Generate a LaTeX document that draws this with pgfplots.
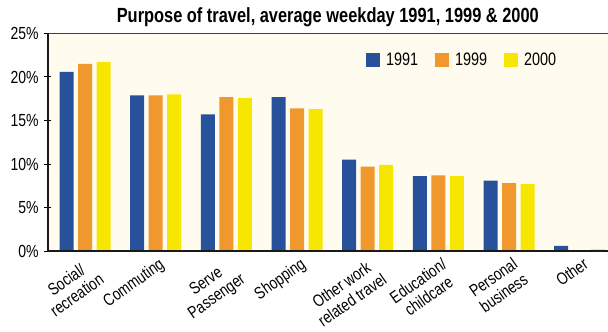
\documentclass[border=0pt]{standalone}
\usepackage{fontspec}
\setmainfont{Liberation Sans}[FakeStretch=0.8]
\usepackage{pgfplots}
\pgfplotsset{compat=1.18}

\definecolor{bgcream}{HTML}{FFFCEF}
\definecolor{c1991}{HTML}{27519B}
\definecolor{c1999}{HTML}{F0972D}
\definecolor{c2000}{HTML}{F7E600}

\pgfplotstableread{
x  y1991 y1999 y2000
0  20.6  21.5  21.7
1  17.9  17.9  18.0
2  15.7  17.7  17.6
3  17.7  16.4  16.3
4  10.5   9.7   9.9
5   8.6   8.7   8.6
6   8.1   7.8   7.7
7   0.6   0.1   0.2
}\travel

\begin{document}
\begin{tikzpicture}
\begin{axis}[
    scale only axis,
    width=560.3bp, height=217.5bp,
    at={(0,0)}, anchor=south west,
    xmin=-0.528, xmax=7.40,
    ymin=0, ymax=25,
    ybar=4.5bp, bar width=14bp,
    clip=false,
    axis line style={draw=none},
    axis background/.style={fill=bgcream},
    font=\fontsize{17.5bp}{18.5bp}\selectfont,
    xtick={0,...,7},
    xticklabels={Social/\\recreation, Commuting, Serve\\Passenger, Shopping,
                 Other work\\related travel, Education/\\childcare,
                 Personal\\business, Other},
    xtick style={draw=none},
    xticklabel style={rotate=35, anchor=north east, align=center,
                      xshift=4bp, yshift=0bp,
                      font=\fontsize{17bp}{18.5bp}\selectfont},
    ytick={0,5,...,25},
    ytick pos=left,
    yticklabels={0\%,5\%,10\%,15\%,20\%,25\%},
    ytick style={draw=black, line width=1bp},
    tick align=center, major tick length=7bp,
    yticklabel style={xshift=-2bp},
    legend style={at={(rel axis cs:0.568,0.92)}, anchor=north west,
                  draw=none, fill=none, inner sep=0pt,
                  legend columns=3,
                  /tikz/every odd column/.append style={column sep=4bp},
                  /tikz/every even column/.append style={column sep=15bp},
                  font=\fontsize{18bp}{20bp}\selectfont},
    legend image code/.code={\fill[#1] (0bp,-7bp) rectangle (14bp,7bp);},
]
\addplot[fill=c1991, draw=none] table[x=x, y=y1991] {\travel};
\addplot[fill=c1999, draw=none] table[x=x, y=y1999] {\travel};
\addplot[fill=c2000, draw=none] table[x=x, y=y2000] {\travel};
\legend{1991, 1999, 2000}

% frame: grey top rule, black left and bottom axes
\draw[black!75, line width=1.3bp] (rel axis cs:0,1) -- (rel axis cs:1,1);
\draw[black!90, line width=2bp] (rel axis cs:0,1) -- (rel axis cs:0,0) -- (rel axis cs:1,0);

\node[anchor=base, yshift=10.5bp, font=\bfseries\fontsize{20.5bp}{22bp}\selectfont]
    at (rel axis cs:0.5,1) {Purpose of travel, average weekday 1991, 1999 \& 2000};
\end{axis}
\pgfresetboundingbox
\path (-47.7bp,-81bp) rectangle (560.3bp,251bp);
\end{tikzpicture}
\end{document}
